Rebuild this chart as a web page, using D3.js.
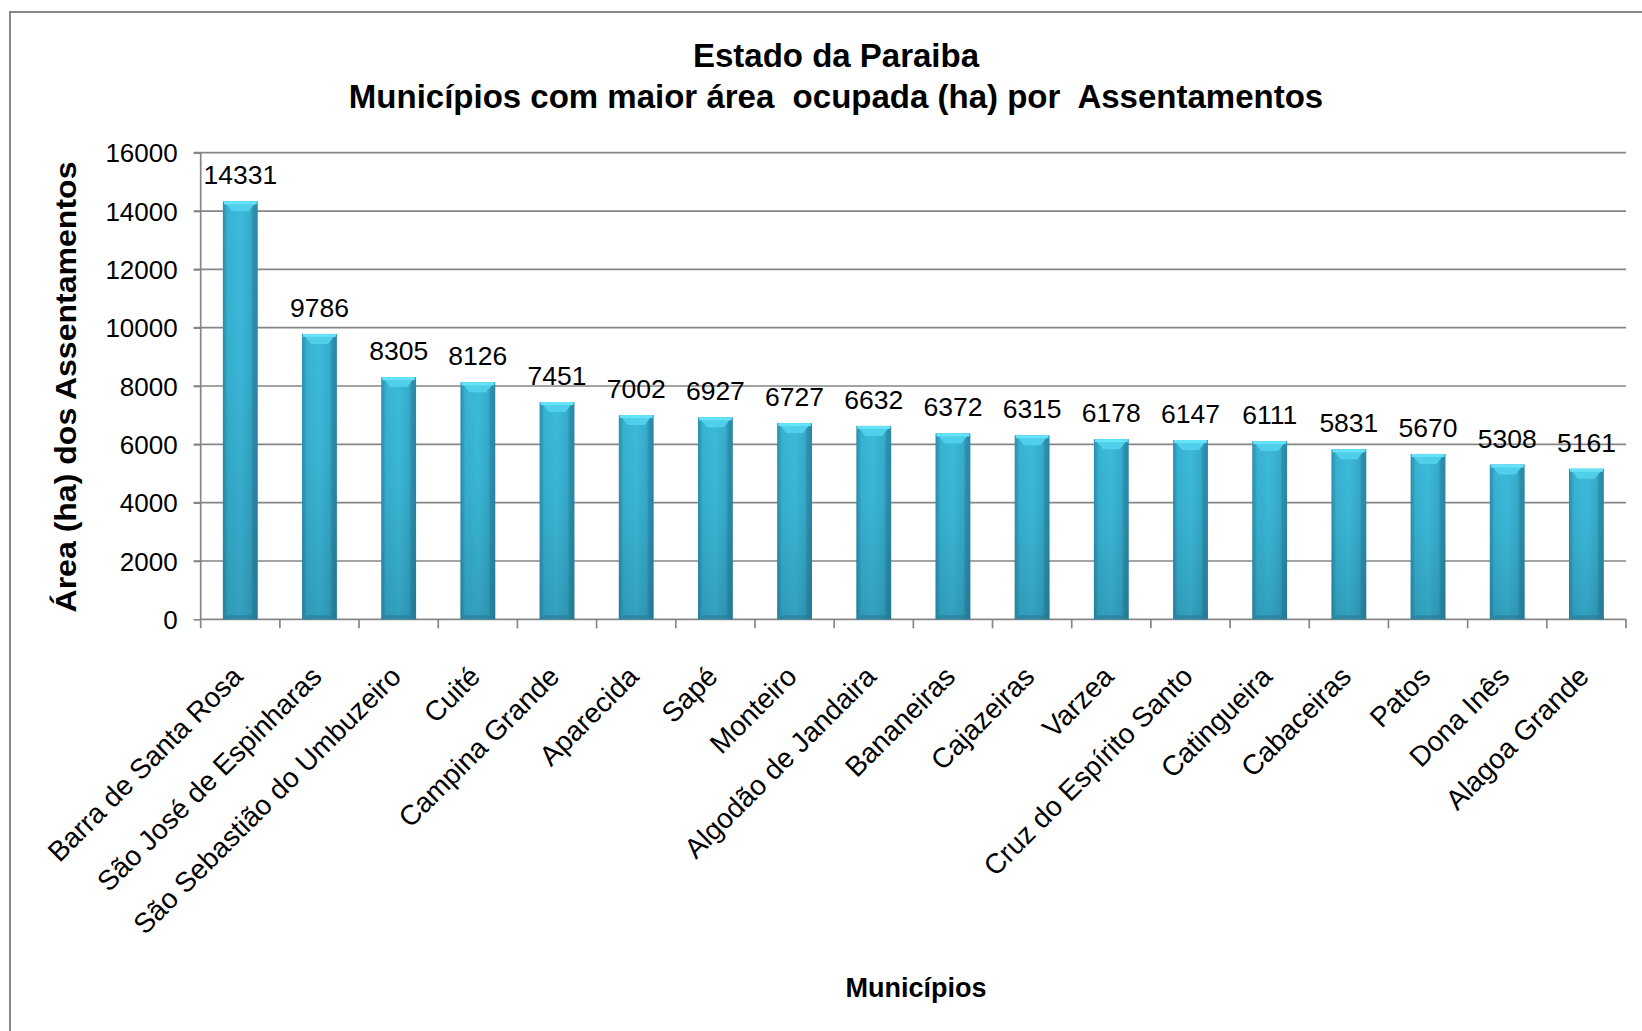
<!DOCTYPE html>
<html>
<head>
<meta charset="utf-8">
<script src="https://cdn.jsdelivr.net/npm/d3@7"></script>
<style>
  html, body { margin: 0; padding: 0; background: #fff; }
  svg { display: block; }
  text { font-family: "Liberation Sans", Arial, Helvetica, sans-serif; fill: #000; }
</style>
</head>
<body>
<svg id="chart" width="1642" height="1031"></svg>
<script>
// ---- data ----
const categories = [
  "Barra de Santa Rosa", "São José de Espinharas", "São Sebastião do Umbuzeiro",
  "Cuité", "Campina Grande", "Aparecida", "Sapé", "Monteiro",
  "Algodão de Jandaira", "Bananeiras", "Cajazeiras", "Varzea",
  "Cruz do Espírito Santo", "Catingueira", "Cabaceiras", "Patos",
  "Dona Inês", "Alagoa Grande"
];
const values = [14331, 9786, 8305, 8126, 7451, 7002, 6927, 6727, 6632, 6372, 6315, 6178, 6147, 6111, 5831, 5670, 5308, 5161];
const yTickValues = [0, 2000, 4000, 6000, 8000, 10000, 12000, 14000, 16000];
const titleLines = ["Estado da Paraiba", "Municípios com maior área  ocupada (ha) por  Assentamentos"];
const yAxisTitle = "Área (ha) dos Assentamentos";
const xAxisTitle = "Municípios";

// ---- layout ----
const W = 1642, H = 1031;
const plot = { left: 200.7, right: 1626, top: 152.7, bottom: 619.3 };
const svg = d3.select("#chart");

svg.append("rect").attr("x", 0).attr("y", 0).attr("width", W).attr("height", H).attr("fill", "#fff");
svg.append("rect").attr("x", 10).attr("y", 12).attr("width", 1700).attr("height", 1100)
  .attr("fill", "none").attr("stroke", "#878787").attr("stroke-width", 2);

const x = d3.scaleBand().domain(categories).range([plot.left, plot.right])
  .paddingInner(0.56).paddingOuter(0.28);
const y = d3.scaleLinear().domain([0, 16000]).range([plot.bottom, plot.top]);

// gradients
const defs = svg.append("defs");
const hg = defs.append("linearGradient").attr("id", "barH").attr("x1", "0").attr("x2", "1").attr("y1", "0").attr("y2", "0");
[["0%", "#2a8fae"], ["7%", "#2f9dbd"], ["14%", "#38b2d2"], ["50%", "#3cbadb"], ["80%", "#37abcb"], ["87%", "#2d91b0"], ["100%", "#2a87a5"]]
  .forEach(([o, c]) => hg.append("stop").attr("offset", o).attr("stop-color", c));
const vg = defs.append("linearGradient").attr("id", "barV").attr("x1", "0").attr("x2", "0").attr("y1", "0").attr("y2", "1");
[["0%", 0], ["40%", 0.04], ["100%", 0.2]]
  .forEach(([o, a]) => vg.append("stop").attr("offset", o).attr("stop-color", "#0a3a4a").attr("stop-opacity", a));

// gridlines
svg.append("g").selectAll("line").data(yTickValues.filter(d => d > 0)).join("line")
  .attr("x1", plot.left - 7).attr("x2", plot.right)
  .attr("y1", d => y(d)).attr("y2", d => y(d))
  .attr("stroke", "#868686").attr("stroke-width", 1.7);

// y axis
const yAxis = svg.append("g").attr("transform", `translate(${plot.left},0)`)
  .call(d3.axisLeft(y).tickValues(yTickValues).tickSize(7).tickPadding(16).tickFormat(d3.format("d")));
yAxis.select(".domain").attr("stroke", "#868686").attr("stroke-width", 1.7).attr("d", `M0,${plot.top}V${plot.bottom}`);
yAxis.selectAll(".tick line").attr("stroke", "#868686").attr("stroke-width", 1.7);
yAxis.selectAll(".tick text").attr("font-size", 26).attr("font-family", "Liberation Sans, Arial, sans-serif")
  .attr("fill", "#000").attr("dy", "0.35em").attr("x", -23);

// x axis
const xAxisG = svg.append("g").attr("transform", `translate(0,${plot.bottom})`)
  .call(d3.axisBottom(x).tickSize(0).tickPadding(0));
xAxisG.select(".domain").attr("stroke", "#868686").attr("stroke-width", 1.7).attr("d", `M${plot.left},0H${plot.right}`);
xAxisG.selectAll(".tick text")
  .attr("font-size", 28).attr("font-family", "Liberation Sans, Arial, sans-serif").attr("fill", "#000")
  .attr("text-anchor", "end").attr("x", 0).attr("y", 0).attr("dy", 0)
  .attr("transform", "translate(4,59) rotate(-45)");
// category boundary ticks
const boundaries = d3.range(categories.length + 1).map(i => x.range()[0] + i * x.step());
xAxisG.append("g").selectAll("line").data(boundaries).join("line")
  .attr("x1", d => d).attr("x2", d => d).attr("y1", 0).attr("y2", 9)
  .attr("stroke", "#868686").attr("stroke-width", 1.7);

// bars
const data = categories.map((c, i) => ({ c, v: values[i] }));
const bw = x.bandwidth();
const bars = svg.append("g").selectAll("g").data(data).join("g");
bars.append("rect")
  .attr("x", d => x(d.c)).attr("y", d => y(d.v))
  .attr("width", bw).attr("height", d => y(0) - y(d.v))
  .attr("fill", "url(#barH)");
bars.append("rect")
  .attr("x", d => x(d.c)).attr("y", d => y(d.v))
  .attr("width", bw).attr("height", d => y(0) - y(d.v))
  .attr("fill", "url(#barV)");
// top bevel
bars.append("path")
  .attr("d", d => {
    const x0 = x(d.c), t = y(d.v);
    return `M${x0 + 1},${t}H${x0 + bw - 1}L${x0 + bw - 9},${t + 10}H${x0 + 9}Z`;
  })
  .attr("fill", "#4fcfea");
bars.append("rect")
  .attr("x", d => x(d.c) + 1).attr("y", d => y(d.v))
  .attr("width", bw - 2).attr("height", 3).attr("fill", "#66e3f7");
// bottom bevel
bars.append("path")
  .attr("d", d => {
    const x0 = x(d.c), b = y(0);
    return `M${x0 + 1},${b}H${x0 + bw - 1}L${x0 + bw - 5},${b - 4}H${x0 + 5}Z`;
  })
  .attr("fill", "#2a7f99").attr("opacity", 0.7);

// data labels
svg.append("g").selectAll("text").data(data).join("text")
  .attr("x", d => x(d.c) + bw / 2).attr("y", d => y(d.v) - 17)
  .attr("text-anchor", "middle").attr("font-size", 26.5)
  .text(d => d.v);

// titles
svg.append("g").selectAll("text").data(titleLines).join("text")
  .attr("x", 836).attr("y", (d, i) => 67 + i * 41)
  .attr("text-anchor", "middle").attr("font-size", 33).attr("font-weight", "bold")
  .style("white-space", "pre")
  .text(d => d);

svg.append("text")
  .attr("transform", "translate(76,387) rotate(-90)")
  .attr("text-anchor", "middle").attr("font-size", 30).attr("font-weight", "bold")
  .attr("textLength", 451).attr("lengthAdjust", "spacingAndGlyphs")
  .text(yAxisTitle);

svg.append("text")
  .attr("x", 916).attr("y", 997)
  .attr("text-anchor", "middle").attr("font-size", 27).attr("font-weight", "bold")
  .text(xAxisTitle);
</script>
</body>
</html>
